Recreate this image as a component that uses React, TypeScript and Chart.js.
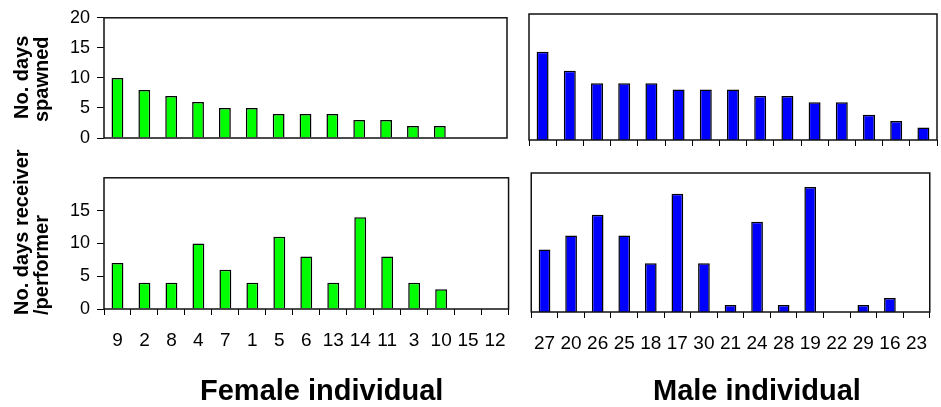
import React, { useEffect, useRef } from 'react';
import { Chart, registerables } from 'chart.js';

Chart.register(...registerables);

const FONT = "'Liberation Sans', Arial, Helvetica, sans-serif";

// Categories (individual IDs)
const femaleIds = ['9', '2', '8', '4', '7', '1', '5', '6', '13', '14', '11', '3', '10', '15', '12'];
const maleIds = ['27', '20', '26', '25', '18', '17', '30', '21', '24', '28', '19', '22', '29', '16', '23'];

// Series values
const femaleSpawned = [10, 8, 7, 6, 5, 5, 4, 4, 4, 3, 3, 2, 2, 0, 0];
const maleSpawned = [14, 11, 9, 9, 9, 8, 8, 8, 7, 7, 6, 6, 4, 3, 2];
const femaleReceiver = [7, 4, 4, 10, 6, 4, 11, 8, 4, 14, 8, 4, 3, 0, 0];
const maleReceiver = [9, 11, 14, 11, 7, 17, 7, 1, 13, 1, 18, 0, 1, 2, 0];

// Axis / text labels
const yMin = 0;
const yMax = 20;
const yStep = 5;
const yTitleTop = ['No. days', 'spawned'];
const yTitleBottom = ['No. days receiver', '/performer'];
const xTitleFemale = 'Female individual';
const xTitleMale = 'Male individual';

const GREEN = '#00FF00';
const BLUE = '#0000FF';

const boxPlugin = {
  id: 'panelBox',
  afterDraw(chart: any) {
    const { ctx, chartArea: a } = chart;
    ctx.save();
    ctx.strokeStyle = '#111';
    ctx.lineWidth = 1.5;
    ctx.strokeRect(a.left, a.top, a.right - a.left, a.bottom - a.top);
    ctx.restore();
  },
};

type Spec = {
  left: number;
  top: number;
  width: number;
  height: number;
  labels: string[];
  values: number[];
  color: string;
  yWidth: number | null;
  padLeft: number;
  padTop: number;
  padRight: number;
  xHeight: number;
  showXTicks: boolean;
  showXLabels: boolean;
  yMaxTick: number;
};

function Panel({ spec }: { spec: Spec }) {
  const ref = useRef<HTMLCanvasElement | null>(null);
  useEffect(() => {
    if (!ref.current) return;
    const chart = new Chart(ref.current, {
      type: 'bar',
      data: {
        labels: spec.labels,
        datasets: [
          {
            data: spec.values,
            backgroundColor: spec.color,
            borderColor: '#000',
            borderWidth: 1.5,
            categoryPercentage: 1,
            barPercentage: 0.44,
          },
        ],
      },
      options: {
        responsive: false,
        maintainAspectRatio: false,
        animation: false,
        layout: { padding: { left: spec.padLeft, top: spec.padTop, right: spec.padRight, bottom: 0 } },
        plugins: { legend: { display: false }, tooltip: { enabled: false }, title: { display: false } },
        scales: {
          x: {
            grid: {
              display: spec.showXTicks,
              drawOnChartArea: false,
              drawTicks: true,
              tickLength: 6,
              color: '#000',
              lineWidth: 1,
              offset: true,
            },
            border: { display: false },
            ticks: {
              display: spec.showXLabels,
              font: { family: FONT, size: 19 },
              color: '#000',
              padding: 14,
              maxRotation: 0,
              minRotation: 0,
              autoSkip: false,
            },
            afterFit: (s: any) => {
              s.height = spec.xHeight;
            },
          },
          y: {
            display: spec.yWidth != null,
            min: yMin,
            max: yMax,
            ticks: {
              stepSize: yStep,
              font: { family: FONT, size: 18 },
              color: '#000',
              padding: 7,
            },
            grid: { drawOnChartArea: false, drawTicks: true, tickLength: 7, color: '#000', lineWidth: 1 },
            border: { display: false },
            afterBuildTicks: (s: any) => {
              s.ticks = s.ticks.filter((t: any) => t.value <= spec.yMaxTick);
            },
            afterFit: (s: any) => {
              if (spec.yWidth != null) s.width = spec.yWidth;
            },
          },
        },
      } as any,
      plugins: [boxPlugin],
    });
    return () => chart.destroy();
  }, []);
  return (
    <canvas
      ref={ref}
      width={spec.width}
      height={spec.height}
      style={{ position: 'absolute', left: spec.left, top: spec.top, width: spec.width, height: spec.height }}
    />
  );
}

const panels: Spec[] = [
  {
    left: 0, top: 0, width: 520, height: 160,
    labels: femaleIds, values: femaleSpawned, color: GREEN,
    yWidth: 104, padLeft: 0, padTop: 14, padRight: 13, xHeight: 22,
    showXTicks: false, showXLabels: false, yMaxTick: 20,
  },
  {
    left: 520, top: 0, width: 421, height: 160,
    labels: maleIds, values: maleSpawned, color: BLUE,
    yWidth: null, padLeft: 9, padTop: 14, padRight: 4, xHeight: 20,
    showXTicks: true, showXLabels: false, yMaxTick: 20,
  },
  {
    left: 0, top: 160, width: 520, height: 247,
    labels: femaleIds, values: femaleReceiver, color: GREEN,
    yWidth: 104, padLeft: 0, padTop: 13, padRight: 11, xHeight: 98,
    showXTicks: true, showXLabels: true, yMaxTick: 15,
  },
  {
    left: 520, top: 160, width: 421, height: 247,
    labels: maleIds, values: maleReceiver, color: BLUE,
    yWidth: null, padLeft: 9, padTop: 13, padRight: 1, xHeight: 95,
    showXTicks: true, showXLabels: true, yMaxTick: 15,
  },
];

function VText({ text, x, y }: { text: string; x: number; y: number }) {
  return (
    <div
      style={{
        position: 'absolute',
        left: x,
        top: y,
        transform: 'rotate(-90deg)',
        transformOrigin: '0 0',
        whiteSpace: 'nowrap',
        font: `bold 20px ${FONT}`,
        lineHeight: '20px',
        color: '#000',
      }}
    >
      {text}
    </div>
  );
}

function HText({ text, x, y }: { text: string; x: number; y: number }) {
  return (
    <div
      style={{
        position: 'absolute',
        left: x,
        top: y,
        whiteSpace: 'nowrap',
        font: `bold 29px ${FONT}`,
        lineHeight: '29px',
        color: '#000',
      }}
    >
      {text}
    </div>
  );
}

export default function App() {
  return (
    <div
      style={{
        position: 'fixed',
        left: 0,
        top: 0,
        width: 941,
        height: 407,
        background: '#fff',
        overflow: 'hidden',
      }}
    >
      {panels.map((p, i) => (
        <Panel key={i} spec={p} />
      ))}
      <VText text={yTitleTop[0]} x={11} y={119} />
      <VText text={yTitleTop[1]} x={31} y={122} />
      <VText text={yTitleBottom[0]} x={11} y={315} />
      <VText text={yTitleBottom[1]} x={31} y={315} />
      <HText text={xTitleFemale} x={200} y={375.5} />
      <HText text={xTitleMale} x={653} y={375.5} />
    </div>
  );
}
